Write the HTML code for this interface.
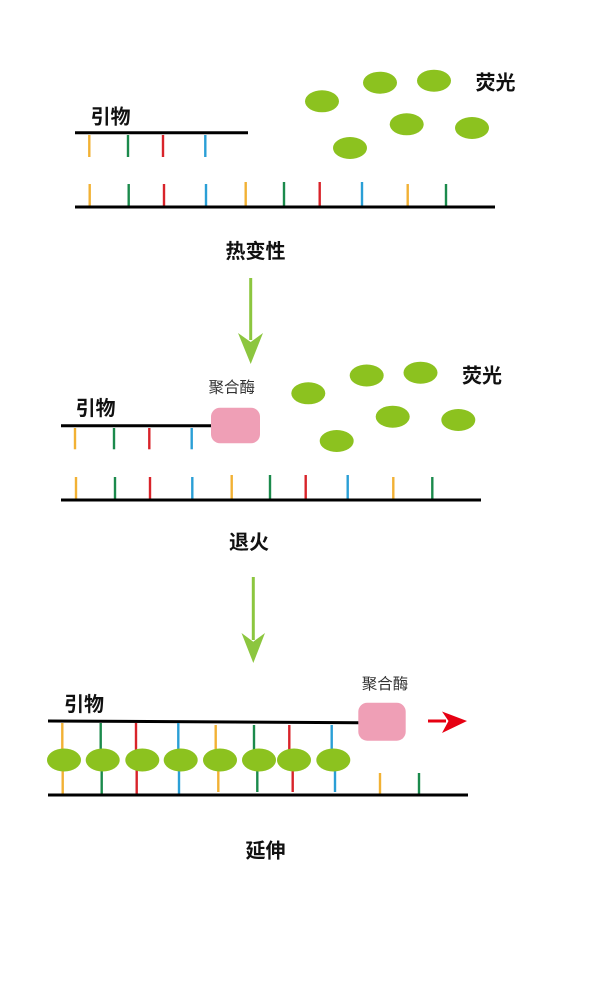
<!DOCTYPE html>
<html><head><meta charset="utf-8"><style>
html,body{margin:0;padding:0;background:#fff;}
svg{display:block;}
text{font-family:"Liberation Sans","Noto Sans CJK SC",sans-serif;}
.b{font-weight:bold;font-size:20px;fill:#111;}
.s{font-size:15.5px;fill:#333;}
</style></head><body>
<svg width="600" height="984" viewBox="0 0 600 984" xmlns="http://www.w3.org/2000/svg">
<defs></defs>
<!-- ===== Section 1 ===== -->
<text class="b" x="90.5" y="123.5">引物</text>
<text class="b" x="475.5" y="89.5">荧光</text>
<line x1="75" y1="132.7" x2="248" y2="132.7" stroke="#000" stroke-width="3"/>
<g stroke-width="2.4">
<line x1="89.3" y1="135" x2="89.3" y2="157" stroke="#f2b134"/>
<line x1="128" y1="135" x2="128" y2="157" stroke="#1b8a4c"/>
<line x1="163" y1="135" x2="163" y2="157" stroke="#d8232a"/>
<line x1="205.3" y1="135" x2="205.3" y2="157" stroke="#2a9fd6"/>
<line x1="89.7" y1="184" x2="89.7" y2="206" stroke="#f2b134"/>
<line x1="128.7" y1="184" x2="128.7" y2="206" stroke="#1b8a4c"/>
<line x1="164" y1="184" x2="164" y2="206" stroke="#d8232a"/>
<line x1="206" y1="184" x2="206" y2="206" stroke="#2a9fd6"/>
<line x1="245.7" y1="182" x2="245.7" y2="206" stroke="#f2b134"/>
<line x1="284" y1="182" x2="284" y2="206" stroke="#1b8a4c"/>
<line x1="319.7" y1="182" x2="319.7" y2="206" stroke="#d8232a"/>
<line x1="362" y1="182" x2="362" y2="206" stroke="#2a9fd6"/>
<line x1="407.7" y1="184" x2="407.7" y2="206" stroke="#f2b134"/>
<line x1="446" y1="184" x2="446" y2="206" stroke="#1b8a4c"/>
</g>
<line x1="75" y1="207" x2="495" y2="207" stroke="#000" stroke-width="3"/>
<g fill="#8cc21f">
<ellipse cx="322" cy="101.3" rx="17" ry="11"/>
<ellipse cx="380" cy="82.7" rx="17" ry="11"/>
<ellipse cx="434" cy="80.7" rx="17" ry="11"/>
<ellipse cx="406.7" cy="124.3" rx="17" ry="11"/>
<ellipse cx="472" cy="128" rx="17" ry="11"/>
<ellipse cx="350" cy="148" rx="17" ry="11"/>
</g>
<text class="b" x="225.5" y="258">热变性</text>
<!-- arrow 1 -->
<line x1="250.7" y1="278" x2="250.7" y2="340" stroke="#8cc63f" stroke-width="3"/>
<polygon points="238,333 250.7,342 263,333 250.7,364" fill="#8cc63f"/>

<!-- ===== Section 2 ===== -->
<text class="s" x="208.5" y="392.4">聚合酶</text>
<text class="b" x="75.5" y="415">引物</text>
<text class="b" x="462" y="382.5">荧光</text>
<line x1="61" y1="425.7" x2="212" y2="425.7" stroke="#000" stroke-width="3"/>
<rect x="211" y="407.7" width="49" height="35.6" rx="9" ry="9" fill="#ef9fb6"/>
<g stroke-width="2.4">
<line x1="75" y1="428" x2="75" y2="449.3" stroke="#f2b134"/>
<line x1="114" y1="428" x2="114" y2="449.3" stroke="#1b8a4c"/>
<line x1="149.3" y1="428" x2="149.3" y2="449.3" stroke="#d8232a"/>
<line x1="191.7" y1="428" x2="191.7" y2="449.3" stroke="#2a9fd6"/>
<line x1="76" y1="477" x2="76" y2="499" stroke="#f2b134"/>
<line x1="115" y1="477" x2="115" y2="499" stroke="#1b8a4c"/>
<line x1="150" y1="477" x2="150" y2="499" stroke="#d8232a"/>
<line x1="192.3" y1="477" x2="192.3" y2="499" stroke="#2a9fd6"/>
<line x1="231.7" y1="475" x2="231.7" y2="499" stroke="#f2b134"/>
<line x1="270" y1="475" x2="270" y2="499" stroke="#1b8a4c"/>
<line x1="305.7" y1="475" x2="305.7" y2="499" stroke="#d8232a"/>
<line x1="347.7" y1="475" x2="347.7" y2="499" stroke="#2a9fd6"/>
<line x1="393.3" y1="477" x2="393.3" y2="499" stroke="#f2b134"/>
<line x1="432.3" y1="477" x2="432.3" y2="499" stroke="#1b8a4c"/>
</g>
<line x1="61" y1="500" x2="481" y2="500" stroke="#000" stroke-width="3"/>
<g fill="#8cc21f">
<ellipse cx="308.3" cy="393.3" rx="17" ry="11"/>
<ellipse cx="366.7" cy="375.5" rx="17" ry="11"/>
<ellipse cx="420.5" cy="372.7" rx="17" ry="11"/>
<ellipse cx="392.7" cy="416.7" rx="17" ry="11"/>
<ellipse cx="458.3" cy="420" rx="17" ry="11"/>
<ellipse cx="336.7" cy="441" rx="17" ry="11"/>
</g>
<text class="b" x="229" y="549">退火</text>
<!-- arrow 2 -->
<line x1="253.3" y1="577" x2="253.3" y2="640" stroke="#8cc63f" stroke-width="3"/>
<polygon points="241.5,633 253.3,641.7 265,633 253.3,663" fill="#8cc63f"/>

<!-- ===== Section 3 ===== -->
<text class="b" x="64" y="711">引物</text>
<text class="s" x="361.8" y="689">聚合酶</text>
<line x1="48" y1="721" x2="359" y2="722.7" stroke="#000" stroke-width="3"/>
<rect x="358.3" y="702.7" width="47.4" height="38" rx="9" ry="9" fill="#ef9fb6"/>
<!-- red arrow -->
<line x1="428" y1="721" x2="446" y2="721" stroke="#e60012" stroke-width="3"/>
<polygon points="442,711.5 448.5,721 442,733 467,721" fill="#e60012"/>
<g stroke-width="2.4">
<line x1="62.3" y1="723" x2="62.3" y2="752" stroke="#f2b134"/>
<line x1="100.7" y1="723" x2="100.7" y2="752" stroke="#1b8a4c"/>
<line x1="136" y1="723" x2="136" y2="752" stroke="#d8232a"/>
<line x1="178.3" y1="723" x2="178.3" y2="752" stroke="#2a9fd6"/>
<line x1="215.7" y1="725" x2="215.7" y2="752" stroke="#f2b134"/>
<line x1="254" y1="725" x2="254" y2="752" stroke="#1b8a4c"/>
<line x1="289.3" y1="725" x2="289.3" y2="752" stroke="#d8232a"/>
<line x1="331.7" y1="725" x2="331.7" y2="752" stroke="#2a9fd6"/>
<line x1="62.7" y1="768" x2="62.7" y2="794" stroke="#f2b134"/>
<line x1="101.7" y1="768" x2="101.7" y2="794" stroke="#1b8a4c"/>
<line x1="136.7" y1="768" x2="136.7" y2="794" stroke="#d8232a"/>
<line x1="179" y1="768" x2="179" y2="794" stroke="#2a9fd6"/>
<line x1="218.3" y1="768" x2="218.3" y2="792" stroke="#f2b134"/>
<line x1="257.3" y1="768" x2="257.3" y2="792" stroke="#1b8a4c"/>
<line x1="292.7" y1="768" x2="292.7" y2="792" stroke="#d8232a"/>
<line x1="335" y1="768" x2="335" y2="792" stroke="#2a9fd6"/>
<line x1="380" y1="773" x2="380" y2="794" stroke="#f2b134"/>
<line x1="419" y1="773" x2="419" y2="794" stroke="#1b8a4c"/>
</g>
<line x1="48" y1="795" x2="468" y2="795" stroke="#000" stroke-width="3"/>
<g fill="#8cc21f">
<ellipse cx="64" cy="760" rx="17" ry="11.5"/>
<ellipse cx="102.7" cy="760" rx="17" ry="11.5"/>
<ellipse cx="142.3" cy="760" rx="17" ry="11.5"/>
<ellipse cx="180.7" cy="760" rx="17" ry="11.5"/>
<ellipse cx="220" cy="760" rx="17" ry="11.5"/>
<ellipse cx="259" cy="760" rx="17" ry="11.5"/>
<ellipse cx="294" cy="760" rx="17" ry="11.5"/>
<ellipse cx="333.3" cy="760" rx="17" ry="11.5"/>
</g>
<text class="b" x="245.5" y="857.5">延伸</text>
</svg>
</body></html>
